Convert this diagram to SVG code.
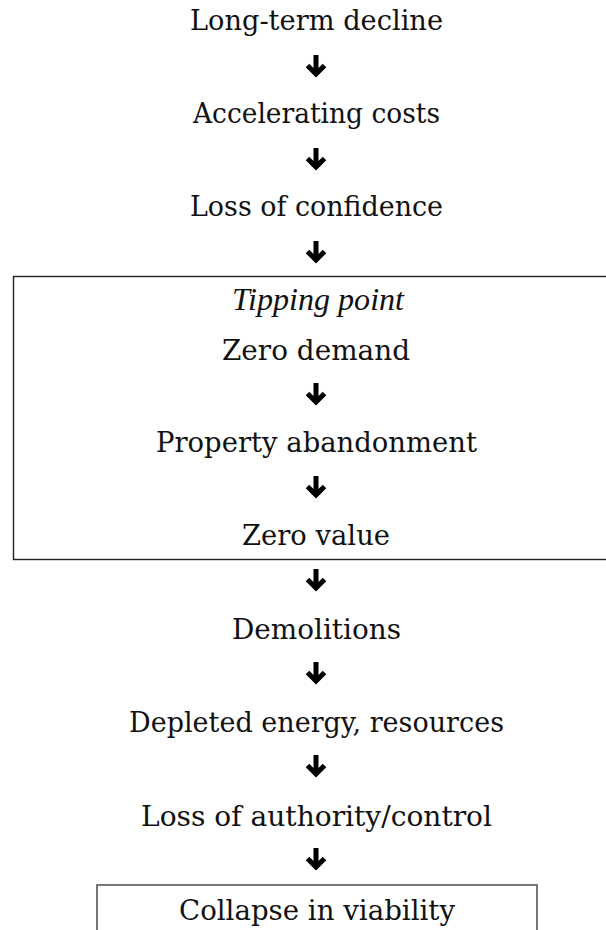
<svg xmlns="http://www.w3.org/2000/svg" width="606" height="930" viewBox="0 0 606 930">
  <style>
    .t { font-family: "DejaVu Serif", "Liberation Serif", serif; font-size: 27px; fill: #111; text-anchor: middle; }
    .it { font-family: "Liberation Serif", "DejaVu Serif", serif; font-style: italic; font-size: 32px; fill: #111; text-anchor: middle; }
    .frame { fill: none; stroke: #222; stroke-width: 1.4; }
    .frame2 { fill: none; stroke: #555; stroke-width: 1.6; }
    .arr { fill: none; stroke: #000; stroke-width: 5; stroke-linejoin: miter; stroke-miterlimit: 10; }
  </style>
  <defs>
    <!-- heavy down arrow, tip at origin -->
    <g id="down">
      <path class="arr" d="M0,-22 V-3 M-8.5,-11.5 L0,-3 L8.5,-11.5"/>
    </g>
  </defs>
  <rect width="606" height="930" fill="#fff"/>

  <g id="tipping-box"><rect class="frame" x="13.5" y="276.5" width="600" height="283"/></g>
  <g id="collapse-box"><rect class="frame2" x="97" y="885" width="440" height="60"/></g>

  <g id="n1"><text class="t" x="316.5" y="30" textLength="253" lengthAdjust="spacingAndGlyphs">Long-term decline</text></g>
  <g id="n2"><text class="t" x="316.5" y="123" textLength="247" lengthAdjust="spacingAndGlyphs">Accelerating costs</text></g>
  <g id="n3"><text class="t" x="316.5" y="216" textLength="253" lengthAdjust="spacingAndGlyphs">Loss of confidence</text></g>
  <g id="tipping-label"><text class="it" x="318" y="310" textLength="172" lengthAdjust="spacingAndGlyphs">Tipping point</text></g>
  <g id="n4"><text class="t" x="316" y="360" textLength="188" lengthAdjust="spacingAndGlyphs">Zero demand</text></g>
  <g id="n5"><text class="t" x="316.5" y="452" textLength="321" lengthAdjust="spacingAndGlyphs">Property abandonment</text></g>
  <g id="n6"><text class="t" x="316" y="545" textLength="148" lengthAdjust="spacingAndGlyphs">Zero value</text></g>
  <g id="n7"><text class="t" x="316.5" y="639" textLength="169" lengthAdjust="spacingAndGlyphs">Demolitions</text></g>
  <g id="n8"><text class="t" x="316.5" y="732" textLength="375" lengthAdjust="spacingAndGlyphs">Depleted energy, resources</text></g>
  <g id="n9"><text class="t" x="316.5" y="826" textLength="351" lengthAdjust="spacingAndGlyphs">Loss of authority/control</text></g>
  <g id="n10"><text class="t" x="317" y="920" textLength="276" lengthAdjust="spacingAndGlyphs">Collapse in viability</text></g>

  <g id="connectors">
    <use href="#down" x="316" y="77"/>
    <use href="#down" x="316" y="170"/>
    <use href="#down" x="316" y="263"/>
    <use href="#down" x="316" y="405"/>
    <use href="#down" x="316" y="498"/>
    <use href="#down" x="316" y="591"/>
    <use href="#down" x="316" y="684"/>
    <use href="#down" x="316" y="777"/>
    <use href="#down" x="316" y="870"/>
  </g>
</svg>
